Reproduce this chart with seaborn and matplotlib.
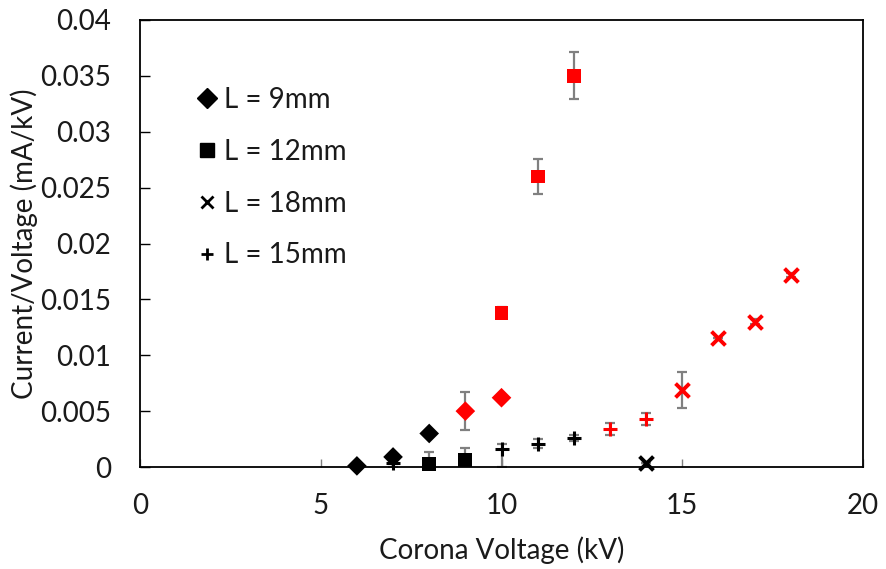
import numpy as np
import pandas as pd
import matplotlib
matplotlib.use("Agg")
import matplotlib.pyplot as plt
from matplotlib.lines import Line2D
import seaborn as sns

sns.set_style("white")
plt.rcParams['font.family'] = ['Lato', 'DejaVu Sans']

# ---- data ----
x9 = [6, 7, 8, 9, 10]
y9 = [0.0001, 0.0009, 0.0030, 0.0050, 0.0062]
e9_lo = [0.0, 0.0, 0.0, 0.0017, 0.0]
e9_hi = [0.0, 0.0, 0.0, 0.0017, 0.0]
c9 = ['black', 'black', 'black', 'red', 'red']

x12 = [8, 9, 10, 11, 12]
y12 = [0.0003, 0.0006, 0.0138, 0.0260, 0.0350]
e12_lo = [0.0010, 0.0011, 0.0005, 0.0016, 0.0021]
e12_hi = [0.0010, 0.0011, 0.0005, 0.0016, 0.0021]
c12 = ['black', 'black', 'red', 'red', 'red']

x18 = [14, 15, 16, 17, 18]
y18 = [0.0004, 0.0069, 0.0115, 0.0130, 0.0172]
e18_lo = [0.0, 0.0016, 0.0, 0.0002, 0.0002]
e18_hi = [0.0, 0.0016, 0.0, 0.0002, 0.0002]
c18 = ['black', 'red', 'red', 'red', 'red']

x15 = [7, 10, 11, 12, 13, 14]
y15 = [0.0004, 0.0016, 0.0021, 0.0026, 0.0034, 0.0043]
e15_lo = [0.0004, 0.0016, 0.0004, 0.0003, 0.0005, 0.0005]
e15_hi = [0.0, 0.0005, 0.0004, 0.0003, 0.0005, 0.0005]
c15 = ['black', 'black', 'black', 'black', 'red', 'red']

labels = ['L = 9mm', 'L = 12mm', 'L = 18mm', 'L = 15mm']
xticks = [0, 5, 10, 15, 20]
yticks = [0, 0.005, 0.01, 0.015, 0.02, 0.025, 0.03, 0.035, 0.04]
ytick_labels = ['0', '0.005', '0.01', '0.015', '0.02', '0.025', '0.03', '0.035', '0.04']

palette = {'black': '#000000', 'red': '#ff0000'}
FS = 20
TXT = '#1a1a1a'

fig = plt.figure(figsize=(8.86, 5.69), dpi=100)
ax = fig.add_axes([140/886, 1-467/569, (863-140)/886, (467-20)/569])

series = [
    (x9, y9, e9_lo, e9_hi, c9, 'D', 100, 0),
    (x12, y12, e12_lo, e12_hi, c12, 's', 100, 0),
    (x15, y15, e15_lo, e15_hi, c15, '+', 100, 2.2),
    (x18, y18, e18_lo, e18_hi, c18, 'x', 100, 2.8),
]

# error bars first (gray)
for xs, ys, lo, hi, cs, m, s, lw in series:
    ax.errorbar(xs, ys, yerr=[lo, hi], fmt='none', ecolor='#808080',
                elinewidth=1.6, capsize=3.5, capthick=1.6, zorder=2)

for xs, ys, lo, hi, cs, m, s, lw in series:
    df = pd.DataFrame({'x': xs, 'y': ys, 'c': cs})
    if m in ('+', 'x'):
        for col in ('black', 'red'):
            sub = df[df.c == col]
            if len(sub):
                ax.scatter(sub.x, sub.y, marker=m, s=s, color=palette[col],
                           linewidths=lw, zorder=3, clip_on=False)
    else:
        sns.scatterplot(data=df, x='x', y='y', hue='c', palette=palette,
                        marker=m, s=s, linewidth=0, ax=ax, legend=False,
                        zorder=3, clip_on=False)

ax.set_xlim(0, 20)
ax.set_ylim(0, 0.04)
ax.set_xticks(xticks)
ax.set_xticklabels([str(t) for t in xticks])
ax.set_yticks(yticks)
ax.set_yticklabels(ytick_labels)
ax.tick_params(axis='both', labelsize=FS, labelcolor=TXT)
ax.tick_params(axis='y', direction='in', length=7, width=1, color='black', pad=21, left=True)
ax.tick_params(axis='x', direction='in', length=6, width=1, color='#808080', pad=19, bottom=True)
for sp in ax.spines.values():
    sp.set_visible(True)
    sp.set_color('black')
    sp.set_linewidth(1.3)
ax.set_xlabel('Corona Voltage (kV)', fontsize=FS, color=TXT, labelpad=12)
ax.set_ylabel('Current/Voltage (mA/kV)', fontsize=FS, color=TXT)
ax.yaxis.set_label_coords((38 - 140) / 723, 0.5)

handles = [
    Line2D([], [], marker='D', color='black', linestyle='none', markersize=10),
    Line2D([], [], marker='s', color='black', linestyle='none', markersize=9.5),
    Line2D([], [], marker='x', color='black', linestyle='none', markersize=8.5, markeredgewidth=2),
    Line2D([], [], marker='+', color='black', linestyle='none', markersize=9, markeredgewidth=2),
]
leg = ax.legend(handles, labels, loc='upper left', bbox_to_anchor=(0.066, 0.875),
                frameon=False, fontsize=FS, handlelength=0.6, handletextpad=0.3,
                labelspacing=0.93, borderaxespad=0)
for t in leg.get_texts():
    t.set_color(TXT)

fig.savefig('out.png', dpi=100)
